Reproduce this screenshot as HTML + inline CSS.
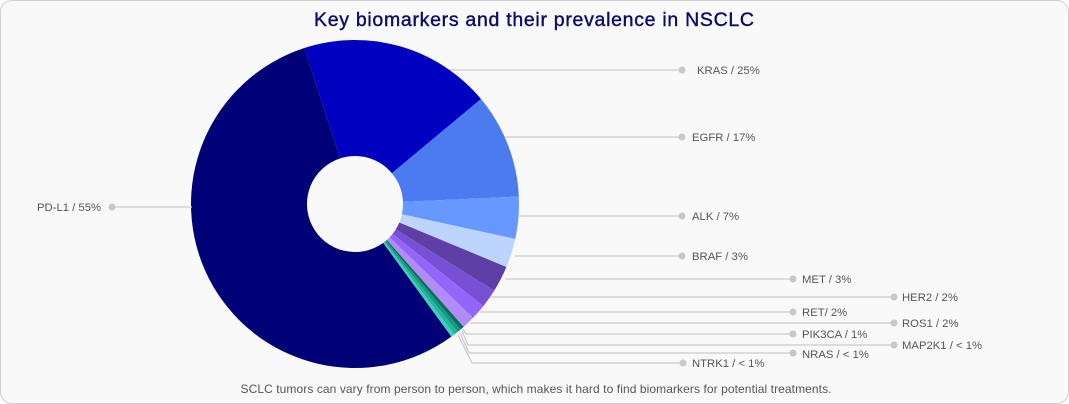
<!DOCTYPE html>
<html><head><meta charset="utf-8">
<style>
html,body{margin:0;padding:0;background:#fff;}
.card{position:absolute;left:0;top:0;width:1067px;height:402px;border:1px solid #d0d0d0;border-radius:12px;background:#f9f9f9;}
svg{position:absolute;left:0;top:0;}
text{font-family:"Liberation Sans",sans-serif;}
</style></head><body>
<div class="card"></div>
<svg width="1069" height="404" viewBox="0 0 1069 404">
<text x="534" y="26" text-anchor="middle" font-size="19.5" fill="#0b0b6b" stroke="#0b0b6b" stroke-width="0.4" textLength="440">Key biomarkers and their prevalence in NSCLC</text>
<g id="pie"></g>
<g stroke="#cccccc" stroke-width="1.3" fill="none">
<line x1="112" y1="207" x2="192" y2="207"/>
<line x1="450" y1="70" x2="682" y2="70"/>
<line x1="505" y1="137" x2="682" y2="137"/>
<line x1="519" y1="216" x2="682" y2="216"/>
<line x1="515" y1="256" x2="682" y2="256"/>
<line x1="505" y1="279" x2="793" y2="279"/>
<line x1="490" y1="297" x2="894" y2="297"/>
<line x1="480" y1="312" x2="793" y2="312"/>
<line x1="470" y1="323" x2="894" y2="323"/>
<polyline points="463,329 466,334 793,334"/>
<polyline points="462,331 468,345 894,345"/>
<polyline points="460,333 469,353 793,353"/>
<polyline points="458,335 472,363 683,363"/>
</g>
<g fill="#c8c8c8">
<circle cx="112" cy="207" r="3.5"/><circle cx="682" cy="70" r="3.5"/><circle cx="682" cy="137" r="3.5"/>
<circle cx="682" cy="216" r="3.5"/><circle cx="682" cy="256" r="3.5"/><circle cx="793" cy="279" r="3.5"/>
<circle cx="894" cy="297" r="3.5"/><circle cx="793" cy="312" r="3.5"/><circle cx="894" cy="323" r="3.5"/>
<circle cx="793" cy="334" r="3.5"/><circle cx="894" cy="345" r="3.5"/><circle cx="793" cy="353" r="3.5"/>
<circle cx="683" cy="363" r="3.5"/>
</g>
<g font-size="11.3" fill="#555">
<text x="37" y="211">PD-L1 / 55%</text>
<text x="697" y="74">KRAS / 25%</text>
<text x="692" y="141">EGFR / 17%</text>
<text x="692" y="220">ALK / 7%</text>
<text x="692" y="260">BRAF / 3%</text>
<text x="802" y="283">MET / 3%</text>
<text x="902" y="301">HER2 / 2%</text>
<text x="802" y="316">RET/ 2%</text>
<text x="902" y="327">ROS1 / 2%</text>
<text x="802" y="338">PIK3CA / 1%</text>
<text x="902" y="349">MAP2K1 / &lt; 1%</text>
<text x="802" y="358">NRAS / &lt; 1%</text>
<text x="692" y="367">NTRK1 / &lt; 1%</text>
<text x="536" y="393" text-anchor="middle" font-size="12" textLength="591">SCLC tumors can vary from person to person, which makes it hard to find biomarkers for potential treatments.</text>
</g>
</svg>
<script>
var cx=355,cy=204,R=164,r=48;
var s=[[144,342,"#000077"],[342,410.2,"#0000c0"],[50.2,87.4,"#4c7bf0"],[87.4,102.3,"#6699ff"],[102.3,112.6,"#bdd4ff"],
[112.6,121.9,"#5e3fa6"],[121.9,128.5,"#7750d6"],[128.5,134,"#9466f8"],[134,138.5,"#b18cf7"],
[138.5,139.9,"#0d6b5e"],[139.9,141.3,"#139980"],[141.3,142.7,"#22b59a"],[142.7,144,"#3ecfb8"]];
function p(a,rad){a=a*Math.PI/180;return (cx+rad*Math.sin(a)).toFixed(2)+","+(cy-rad*Math.cos(a)).toFixed(2);}
var h="";
s.forEach(function(d){var a0=d[0],a1=d[1];var lg=(a1-a0)>180?1:0;
h+='<path fill="'+d[2]+'" d="M'+p(a0,R)+' A'+R+','+R+' 0 '+lg+' 1 '+p(a1,R)+' L'+p(a1,r)+' A'+r+','+r+' 0 '+lg+' 0 '+p(a0,r)+' Z"/>';});
document.getElementById("pie").innerHTML=h;
</script>
</body></html>
